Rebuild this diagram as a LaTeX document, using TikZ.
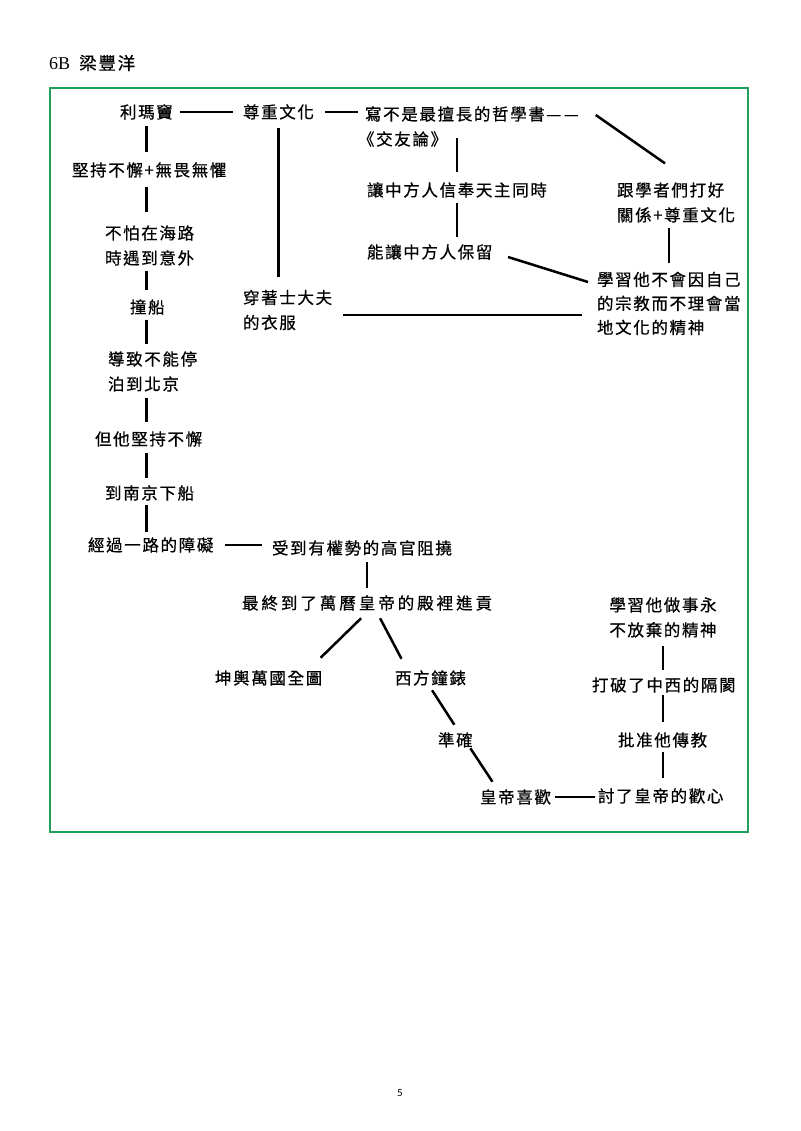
\documentclass[tikz,border=0pt]{standalone}
\usepackage{fontspec}
\newfontfamily\cjk[LetterSpace=10, FakeBold=0.6]{Noto Sans CJK TC}
\newfontfamily\cjkwide[LetterSpace=18, FakeBold=0.6]{Noto Sans CJK TC}
\newfontfamily\tnr{Liberation Serif}
\newfontfamily\pgnfont{Carlito}
\usetikzlibrary{calc}
\definecolor{framegreen}{RGB}{30,160,90}
\begin{document}
\begin{tikzpicture}[x=1pt,y=-1pt,
  multi/.style={inner sep=0pt, outer sep=0pt, font=\cjk\fontsize{16.5}{25}\selectfont, align=left},
  one/.style={multi, text height=12.5pt, text depth=0pt},
  link/.style={line width=2.5pt, black}]
\useasboundingbox[fill=white] (0,0) rectangle (800,1131);
\draw[framegreen, line width=2.5pt] (50,88) rectangle (748,832);
% title and page number
\node[anchor=west, inner sep=0pt] (title) at (49,63) {\tnr\fontsize{18}{20}\selectfont 6B\hspace{9pt}{\cjk\fontsize{17.5}{20}\selectfont 梁豐洋}};
\node[inner sep=0pt] (pg) at (400,1093) {\pgnfont\fontsize{11}{12}\selectfont 5};
% left column
\node[one, anchor=west] (lmd) at (120,112) {利瑪竇};
\node[one, anchor=west] (jc) at (72,170) {堅持不懈+無畏無懼};
\node[multi, anchor=west] (bp) at (105,245.5) {不怕在海路\\時遇到意外};
\node[one, anchor=west] (zc) at (130,307) {撞船};
\node[multi, anchor=west] (dz) at (108,371.5) {導致不能停\\泊到北京};
\node[one, anchor=west] (dt) at (95,439) {但他堅持不懈};
\node[one, anchor=west] (dn) at (105,493) {到南京下船};
\node[one, anchor=west] (jg) at (88,545) {經過一路的障礙};
\node[one, anchor=west] (sd) at (272,548) {受到有權勢的高官阻撓};
\node[one, anchor=west, font=\cjkwide\fontsize{16.5}{25}\selectfont] (zz) at (242,603) {最終到了萬曆皇帝的殿裡進貢};
\node[one, anchor=west] (ky) at (215,678) {坤輿萬國全圖};
\node[one, anchor=west] (xf) at (395,678) {西方鐘錶};
\node[one, anchor=west] (zq) at (438,740) {準確};
\node[one, anchor=west] (hx) at (480,797) {皇帝喜歡};
\node[one, anchor=west] (tl) at (598,796) {討了皇帝的歡心};
\node[one, anchor=west] (pz) at (618,740) {批准他傳教};
\node[one, anchor=west] (dp) at (592,685) {打破了中西的隔閡};
\node[multi] (xx) at (663,617.5) {學習他做事永\\不放棄的精神};
% top area
\node[one, anchor=west] (zwh) at (243,112) {尊重文化};
\node[multi, anchor=west] (xie) at (365,126.5) {寫不是最擅長的哲學書—\,—\\\hspace*{-7pt}《交友論》};
\node[multi, anchor=west] (cz) at (243,310) {穿著士大夫\\的衣服};
\node[one, anchor=west] (rz) at (367,190) {讓中方人信奉天主同時};
\node[one, anchor=west] (nr) at (367,252) {能讓中方人保留};
\node[multi, anchor=west] (gx) at (617,202.5) {跟學者們打好\\關係+尊重文化};
\node[multi, anchor=west, font=\cjk\fontsize{16.5}{24}\selectfont] (xs) at (597,303.5) {學習他不會因自己\\的宗教而不理會當\\地文化的精神};
% connectors top
\draw[link, shorten <=7pt, shorten >=10pt] (lmd.east) -- (zwh.west);
\draw[link, shorten <=11pt, shorten >=7pt] (zwh.east) -- (zwh.east -| xie.west);
\draw[link] ($(xie.east)+(17,-11.5)$) -- ($(gx.north)+(-11,-19)$);
\draw[link, shorten <=10pt, shorten >=13pt] (zwh.south) -- (zwh.south |- cz.north);
\draw[link, shorten <=12pt, shorten >=-9pt] (rz.north) -- (rz.north |- xie.south);
\draw[link, shorten <=7pt, shorten >=9pt] (rz.south) -- (rz.south |- nr.north);
\draw[link] ($(nr.east)+(15.6,5)$) -- ($(xs.west)+(-9,-21.5)$);
\draw[link, shorten <=9pt, shorten >=5pt] (xs.north) -- (xs.north |- gx.south);
\draw[link, shorten >=15pt] (cz.east) ++(11,5) coordinate (h3s) -- (h3s -| xs.west);
% connectors left column
\draw[link, shorten <=8pt, shorten >=12pt] (lmd.south) -- (lmd.south |- jc.north);
\draw[link, shorten <=11pt, shorten >=13pt] (jc.south -| lmd.south) -- (bp.north -| lmd.south);
\draw[link, shorten <=5pt, shorten >=11pt] (bp.south -| lmd.south) -- (zc.north -| lmd.south);
\draw[link, shorten <=7pt, shorten >=7pt] (zc.south -| lmd.south) -- (dz.north -| lmd.south);
\draw[link, shorten <=6pt, shorten >=11pt] (dz.south -| lmd.south) -- (dt.north -| lmd.south);
\draw[link, shorten <=8pt, shorten >=9pt] (dt.south -| lmd.south) -- (dn.north -| lmd.south);
\draw[link, shorten <=6pt, shorten >=7pt] (dn.south -| lmd.south) -- (jg.north -| lmd.south);
% lower part
\draw[link, shorten <=11.5pt, shorten >=10pt] (jg.east) -- (jg.east -| sd.west);
\draw[link, shorten <=8pt, shorten >=9pt] (zz.north |- sd.south) -- (zz.north);
\draw[link] ($(zz.south)+(-6,9)$) -- ($(ky.north)+(52,-14)$);
\draw[link] ($(zz.south)+(13,9)$) -- ($(xf.north)+(-29,-13)$);
\draw[link] ($(xf.south)+(1.6,6)$) -- ($(zq.north)+(-1,-9)$);
\draw[link] ($(zq.south)+(15,2)$) -- ($(hx.north)+(-23,-9)$);
\draw[link, shorten <=4pt, shorten >=3pt] (hx.east) -- (hx.east -| tl.west);
\draw[link, shorten <=12pt, shorten >=6pt] (tl.north -| xx.south) -- (pz.south -| xx.south);
\draw[link, shorten <=12pt, shorten >=4pt] (pz.north -| xx.south) -- (dp.south -| xx.south);
\draw[link, shorten <=9pt, shorten >=8pt] (dp.north -| xx.south) -- (xx.south);
\end{tikzpicture}
\end{document}
